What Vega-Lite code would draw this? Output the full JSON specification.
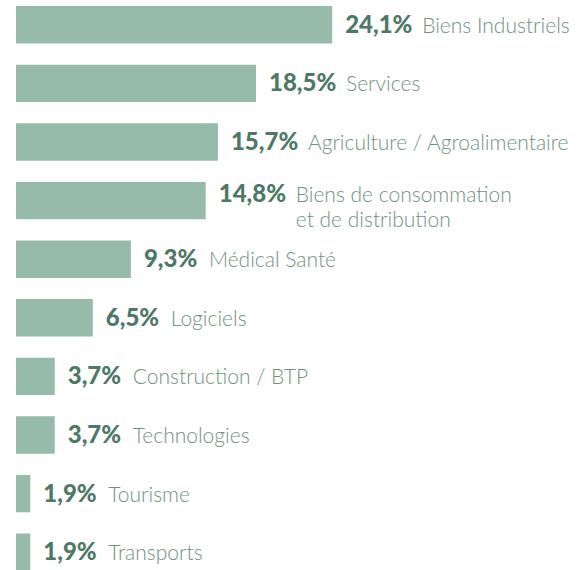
{
  "$schema": "https://vega.github.io/schema/vega-lite/v6.json",
  "autosize": "none",
  "width": 563,
  "height": 577,
  "padding": {"left": 16, "top": 0, "right": 0, "bottom": 0},
  "background": "white",
  "config": {"view": {"stroke": null}},
  "data": {
    "values": [
      {"order": 1, "category": "Biens Industriels", "value": 24.1, "lines": 1},
      {"order": 2, "category": "Services", "value": 18.5, "lines": 1},
      {"order": 3, "category": "Agriculture / Agroalimentaire", "value": 15.7, "lines": 1},
      {"order": 4, "category": "Biens de consommation\net de distribution", "value": 14.8, "lines": 2},
      {"order": 5, "category": "Médical Santé", "value": 9.3, "lines": 1},
      {"order": 6, "category": "Logiciels", "value": 6.5, "lines": 1},
      {"order": 7, "category": "Construction / BTP", "value": 3.7, "lines": 1},
      {"order": 8, "category": "Technologies", "value": 3.7, "lines": 1},
      {"order": 9, "category": "Tourisme", "value": 1.9, "lines": 1},
      {"order": 10, "category": "Transports", "value": 1.9, "lines": 1}
    ]
  },
  "transform": [
    {"calculate": "replace(format(datum.value, '.1f'), '.', ',') + '%'", "as": "pct"}
  ],
  "encoding": {
    "y": {
      "field": "order",
      "type": "ordinal",
      "sort": "ascending",
      "axis": null,
      "scale": {"paddingInner": 0.3616, "paddingOuter": 0.104}
    },
    "x": {
      "field": "value",
      "type": "quantitative",
      "axis": null,
      "scale": {"domain": [0.85, 42.25], "zero": false, "nice": false, "clamp": true}
    }
  },
  "layer": [
    {"mark": {"type": "bar", "color": "#97bbaa", "cornerRadius": 0}},
    {
      "transform": [{"filter": "datum.lines == 1"}],
      "mark": {"type": "text", "align": "left", "baseline": "middle", "dx": 13, "dy": 1, "font": "Lato", "fontWeight": 900, "fontSize": 24, "color": "#4d7866"},
      "encoding": {"text": {"field": "pct"}}
    },
    {
      "transform": [{"filter": "datum.lines == 2"}],
      "mark": {"type": "text", "align": "left", "baseline": "middle", "dx": 13, "dy": -6, "font": "Lato", "fontWeight": 900, "fontSize": 24, "color": "#4d7866"},
      "encoding": {"text": {"field": "pct"}}
    },
    {
      "transform": [{"filter": "datum.lines == 1 && datum.value >= 10"}],
      "mark": {"type": "text", "align": "left", "baseline": "middle", "dx": 90, "dy": 2, "font": "Lato", "fontWeight": 300, "fontSize": 21, "color": "#6f9282"},
      "encoding": {"text": {"field": "category"}}
    },
    {
      "transform": [{"filter": "datum.lines == 1 && datum.value < 10"}],
      "mark": {"type": "text", "align": "left", "baseline": "middle", "dx": 78, "dy": 2, "font": "Lato", "fontWeight": 300, "fontSize": 21, "color": "#6f9282"},
      "encoding": {"text": {"field": "category"}}
    },
    {
      "transform": [{"filter": "datum.lines == 2"}],
      "mark": {"type": "text", "align": "left", "baseline": "middle", "dx": 90, "dy": -5, "lineBreak": "\n", "lineHeight": 25, "font": "Lato", "fontWeight": 300, "fontSize": 21, "color": "#6f9282"},
      "encoding": {"text": {"field": "category"}}
    }
  ]
}
